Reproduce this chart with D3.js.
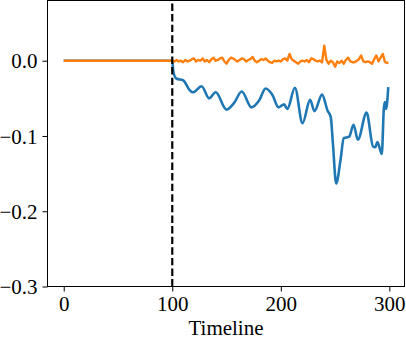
<!DOCTYPE html>
<html>
<head>
<meta charset="utf-8">
<script src="https://cdn.jsdelivr.net/npm/d3@7"></script>
<style>
  body { margin: 0; background: #fff; }
  text { font-family: "Liberation Serif", "Times New Roman", serif; }
</style>
</head>
<body>
<div class="canvas"></div>
<script>
// data
const blueX = [0, 100, 101, 104, 110, 116, 119, 127, 134, 140, 150, 157, 164, 173, 180, 186, 192, 198, 203, 206,
  213, 220, 227, 231, 238, 243, 246, 248, 251, 255, 258, 263, 267, 271, 279, 285, 287, 289, 293, 295, 296, 297, 299];
const blueY = [0, 0, -0.015, -0.024, -0.026, -0.039, -0.042, -0.034, -0.050, -0.042, -0.065, -0.056, -0.041, -0.062,
  -0.053, -0.037, -0.045, -0.062, -0.058, -0.064, -0.036, -0.083, -0.052, -0.067, -0.045, -0.066, -0.075, -0.110,
  -0.163, -0.132, -0.103, -0.101, -0.085, -0.105, -0.069, -0.114, -0.115, -0.108, -0.124, -0.062, -0.055, -0.064, -0.035];

const orangeX = [0, 100, 102, 104, 106, 108, 110, 112, 114, 116, 118, 120, 122, 124, 126, 128, 130, 132, 134, 136,
  138, 140, 142, 144, 146, 148, 150, 152, 154, 156, 158, 160, 162, 164, 166, 168, 170, 172, 174, 176, 178, 180,
  182, 184, 186, 188, 190, 192, 194, 196, 198, 200, 202, 204, 206, 208, 210, 212, 214, 216, 218, 220, 222, 224,
  226, 228, 230, 232, 234, 236, 238, 240, 242, 244, 246, 248, 250, 252, 254, 256, 258, 260, 262, 264, 266, 268,
  270, 272, 274, 276, 278, 280, 282, 284, 286, 288, 290, 292, 294, 296, 298, 299];
const orangeY = [0, 0, -0.001, 0.001, -0.001, 0.000, -0.002, 0.001, -0.001, 0.000, 0.002, 0.003, -0.001, 0.001,
  0.000, 0.003, -0.001, 0.001, -0.002, 0.002, 0.004, 0.000, 0.001, 0.003, 0.004, -0.001, -0.004, 0.001, 0.004,
  0.003, 0.001, -0.001, 0.001, 0.003, 0.002, -0.001, 0.001, 0.002, 0.005, 0.000, -0.002, 0.000, 0.002, 0.001,
  0.003, 0.000, -0.002, -0.003, 0.000, -0.001, 0.000, -0.001, 0.002, 0.003, 0.000, 0.009, 0.002, 0.000, -0.002,
  -0.004, -0.001, 0.000, -0.001, 0.001, -0.002, 0.003, 0.002, 0.000, -0.001, 0.000, -0.002, 0.020, 0.001, -0.004,
  0.000, -0.002, -0.008, -0.001, -0.003, 0.000, -0.004, 0.001, 0.004, -0.001, -0.002, -0.002, 0.000, 0.002, 0.007,
  -0.001, -0.002, -0.001, -0.002, -0.004, 0.002, 0.007, -0.001, 0.004, 0.009, -0.002, -0.003, -0.002];

const xTicks = [0, 100, 200, 300];
const yTicks = [0.0, -0.1, -0.2, -0.3];
const splitAt = 100;

const dims = { width: 406, height: 341 };
const plot = { left: 47.5, right: 404.5, top: 0.5, bottom: 286.5 };

const svg = d3
  .select(".canvas")
  .append("svg")
  .attr("width", dims.width)
  .attr("height", dims.height);

const x = d3.scaleLinear().domain([-14.95, 313.95]).range([plot.left, plot.right]);
const y = d3.scaleLinear().domain([-0.3, 0.08]).range([plot.bottom, plot.top]);

svg.append("clipPath").attr("id", "clip")
  .append("rect")
  .attr("x", plot.left).attr("y", plot.top)
  .attr("width", plot.right - plot.left).attr("height", plot.bottom - plot.top);

const graph = svg.append("g").attr("clip-path", "url(#clip)");

// blue (drawn first, orange on top)
const blueLine = d3.line()
  .x((d, i) => x(blueX[i]))
  .y((d) => y(d))
  .curve(d3.curveMonotoneX);

graph.append("path")
  .attr("d", blueLine(blueY))
  .attr("fill", "none")
  .attr("stroke", "#1f77b4")
  .attr("stroke-width", 2.6)
  .attr("stroke-linejoin", "round");

const orangeLine = d3.line()
  .x((d, i) => x(orangeX[i]))
  .y((d) => y(d));

graph.append("path")
  .attr("d", orangeLine(orangeY))
  .attr("fill", "none")
  .attr("stroke", "#ff7f0e")
  .attr("stroke-width", 2.4)
  .attr("stroke-linejoin", "round");

// dashed vertical marker
graph.append("line")
  .attr("x1", x(splitAt)).attr("x2", x(splitAt))
  .attr("y1", plot.bottom).attr("y2", plot.top)
  .attr("stroke", "#000")
  .attr("stroke-width", 2.2)
  .attr("stroke-dasharray", "7.4,3.2");

// axes
const xAxis = d3.axisBottom(x).tickValues(xTicks).tickSize(5).tickPadding(5)
  .tickFormat(d3.format("d"));
const yAxis = d3.axisLeft(y).tickValues(yTicks).tickSize(5).tickPadding(5)
  .tickFormat((d) => d3.format(".1f")(d).replace("-", "\u2212"));

const gx = svg.append("g").attr("transform", `translate(0, ${plot.bottom})`).call(xAxis);
const gy = svg.append("g").attr("transform", `translate(${plot.left}, 0)`).call(yAxis);

[gx, gy].forEach((g) => {
  g.select(".domain").remove();
  g.selectAll("line").attr("stroke", "#000").attr("stroke-width", 1);
  g.selectAll("text")
    .attr("fill", "#000")
    .style("font-size", "21px")
    .style("font-family", "'Liberation Serif', serif");
});
gy.selectAll("text").attr("dy", "0.34em");

// frame
svg.append("rect")
  .attr("x", plot.left).attr("y", plot.top)
  .attr("width", plot.right - plot.left).attr("height", plot.bottom - plot.top)
  .attr("fill", "none")
  .attr("stroke", "#000")
  .attr("stroke-width", 1);

svg.append("text")
  .attr("x", (plot.left + plot.right) / 2)
  .attr("y", 335)
  .attr("text-anchor", "middle")
  .style("font-size", "21px")
  .text("Timeline");
</script>
</body>
</html>
